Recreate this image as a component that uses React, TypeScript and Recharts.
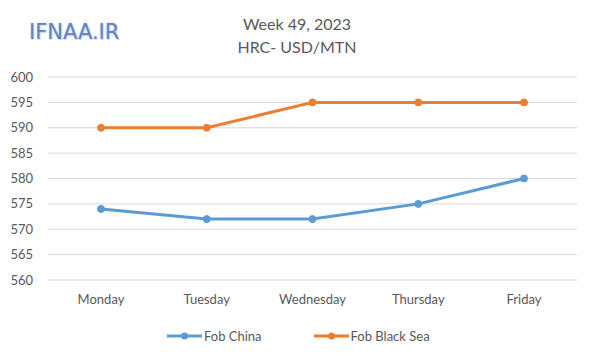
import React from "react";
import { LineChart, Line, XAxis, YAxis, CartesianGrid } from "recharts";

const days = ["Monday", "Tuesday", "Wednesday", "Thursday", "Friday"];
const fobChina = [574, 572, 572, 575, 580];
const fobBlackSea = [590, 590, 595, 595, 595];
const yTicks = [560, 565, 570, 575, 580, 585, 590, 595, 600];

const BLUE = "#5b9bd5";
const ORANGE = "#ed7d31";
const TEXT = "#595959";
const FONT = "Lato, 'Open Sans', sans-serif";

const data = days.map((d, i) => ({ day: d, china: fobChina[i], blackSea: fobBlackSea[i] }));

function LegendItem({ color, label }: { color: string; label: string }) {
  return (
    <div style={{ display: "flex", alignItems: "center" }}>
      <svg width={35} height={10}>
        <line x1={0} y1={5} x2={35} y2={5} stroke={color} strokeWidth={3} />
        <circle cx={17.5} cy={5} r={3.5} fill={color} />
      </svg>
      <span style={{ marginLeft: 2, fontSize: 13, color: TEXT }}>{label}</span>
    </div>
  );
}

export default function App() {
  return (
    <div
      style={{
        position: "relative",
        width: 600,
        height: 363,
        margin: -8,
        background: "#fff",
        fontFamily: FONT,
      }}
    >
      <div
        style={{
          position: "absolute",
          left: 1,
          top: 1,
          width: 593,
          height: 354,
          border: "1px solid #d9d9d9",
        }}
      />
      <div
        style={{
          position: "absolute",
          left: 29,
          top: 20,
          fontSize: 21,
          fontFamily: "'DejaVu Sans', sans-serif",
          color: "#6384c4",
          textShadow: "0 0 2px #b9cbed, 1px 1px 1px #c7d4ee",
        }}
      >
        IFNAA.IR
      </div>
      <div
        style={{
          position: "absolute",
          left: 197,
          width: 200,
          top: 12,
          textAlign: "center",
          fontSize: 16,
          lineHeight: "23px",
          color: TEXT,
        }}
      >
        <div>Week 49, 2023</div>
        <div>HRC- USD/MTN</div>
      </div>
      <LineChart
        width={600}
        height={363}
        data={data}
        margin={{ top: 77, right: 23, bottom: 0, left: 0 }}
        style={{ position: "absolute", left: 0, top: 0 }}
      >
        <CartesianGrid vertical={false} stroke="#d9d9d9" />
        <XAxis
          dataKey="day"
          axisLine={false}
          tickLine={false}
          tickSize={0}
          tickMargin={15}
          height={83}
          interval={0}
          padding={{ left: 53, right: 53 }}
          tick={{ fill: TEXT, fontSize: 13, fontFamily: FONT }}
        />
        <YAxis
          domain={[560, 600]}
          ticks={yTicks}
          width={48}
          axisLine={false}
          tickLine={false}
          tickSize={0}
          tickMargin={15}
          tick={{ fill: TEXT, fontSize: 13, fontFamily: FONT }}
        />
        <Line
          dataKey="china"
          stroke={BLUE}
          strokeWidth={3}
          dot={{ r: 3.5, fill: BLUE, stroke: BLUE, strokeWidth: 1 }}
          isAnimationActive={false}
        />
        <Line
          dataKey="blackSea"
          stroke={ORANGE}
          strokeWidth={3}
          dot={{ r: 3.5, fill: ORANGE, stroke: ORANGE, strokeWidth: 1 }}
          isAnimationActive={false}
        />
      </LineChart>
      <div
        style={{
          position: "absolute",
          top: 328,
          left: 167,
          display: "flex",
          gap: 52,
        }}
      >
        <LegendItem color={BLUE} label="Fob China" />
        <LegendItem color={ORANGE} label="Fob Black Sea" />
      </div>
    </div>
  );
}
